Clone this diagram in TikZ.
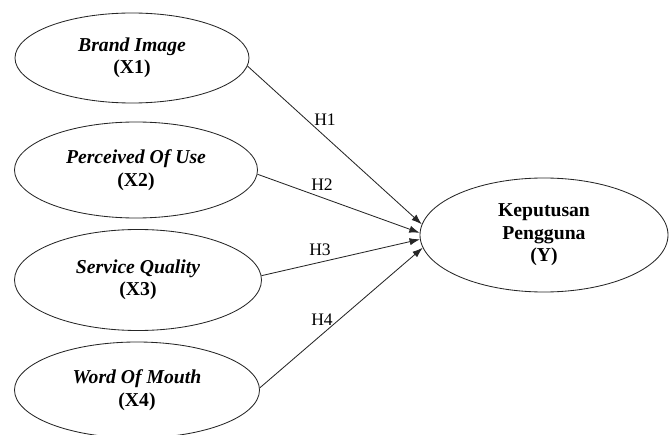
\documentclass[tikz,border=0pt]{standalone}
\usepackage{fontspec}
\setmainfont{Liberation Serif}
\usetikzlibrary{positioning,arrows.meta,shapes.geometric}

\begin{document}
\begin{tikzpicture}[
  >={Latex[length=2.6mm,width=1.8mm]},
  var/.style={draw=black!85, line width=0.6pt, ellipse, align=center, inner sep=0pt, font=\fontsize{14}{16}\selectfont\bfseries},
  hyp/.style={font=\fontsize{12.5}{14}\selectfont},
  path/.style={->, line width=0.6pt, draw=black!85},
]
\useasboundingbox (0,0) rectangle (16.75,10.85);

% ---------- LEFT: independent variables ----------
\node[var, minimum width=5.85cm,  minimum height=2.25cm]  (x1) at (3.3,9.4)   {{\itshape Brand Image}\\(X1)};
\node[var, minimum width=6.075cm, minimum height=2.4cm]   (x2) at (3.4,6.6)   {{\itshape Perceived Of Use}\\(X2)};
\node[var, minimum width=6.175cm, minimum height=2.525cm] (x3) at (3.45,3.85) {{\itshape Service Quality}\\(X3)};
\node[var, minimum width=6.125cm, minimum height=2.4cm]   (x4) at (3.425,1.1) {{\itshape Word Of Mouth}\\(X4)};

% ---------- RIGHT: dependent variable ----------
\node[var, minimum width=6.2cm, minimum height=2.85cm] (y) at (13.6,4.975) {Keputusan\\Pengguna\\(Y)};

% ---------- PATHS: hypotheses ----------
\draw[path] (x1.-4) -- (y.175);
\draw[path] (x2.-2) -- (y.179);
\draw[path] (x3.2)  -- (y.182);
\draw[path] (x4.1)  -- (y.186);
\node[hyp] (h1) at (8.125,7.85) {H1};
\node[hyp] (h2) at (8.05,6.225) {H2};
\node[hyp] (h3) at (8.0,4.6)    {H3};
\node[hyp] (h4) at (8.05,2.85)  {H4};
\end{tikzpicture}
\end{document}
